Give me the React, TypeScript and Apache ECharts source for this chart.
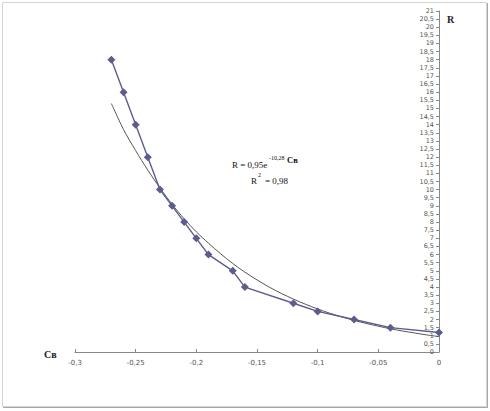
import React, { useEffect, useRef } from "react";
import * as echarts from "echarts";

const cbValues = [-0.27, -0.26, -0.25, -0.24, -0.23, -0.22, -0.21, -0.2, -0.19, -0.17, -0.16, -0.12, -0.1, -0.07, -0.04, 0];
const rValues = [18, 16, 14, 12, 10, 9, 8, 7, 6, 5, 4, 3, 2.5, 2, 1.5, 1.2];

// trend line values (exponential fit R = 0,95e^(-10,28Cв))
const trendX = [-0.27, -0.26, -0.25, -0.24, -0.23, -0.22, -0.21, -0.2, -0.19, -0.18, -0.17, -0.16, -0.15, -0.14, -0.13, -0.12, -0.11, -0.1, -0.09, -0.08, -0.07, -0.06, -0.05, -0.04, -0.03, -0.02, -0.01, 0];
const trendY = [15.3, 13.7, 12.4, 11.2, 10.1, 9.1, 8.2, 7.4, 6.7, 6.05, 5.45, 4.92, 4.44, 4.0, 3.61, 3.26, 2.94, 2.65, 2.39, 2.16, 1.95, 1.76, 1.59, 1.43, 1.29, 1.17, 1.05, 0.95];

const xTicks = { min: -0.3, max: 0, interval: 0.05 };
const yTicks = { min: 0, max: 21, interval: 0.5 };

const fmt = (v: number) => String(+v.toFixed(2)).replace(".", ",");

export default function App() {
  const ref = useRef<HTMLDivElement>(null);
  useEffect(() => {
    document.body.style.margin = "0";
    const chart = echarts.init(ref.current!, null, { renderer: "svg" });
    const serif = "Liberation Serif";
    chart.setOption({
      animation: false,
      backgroundColor: "#ffffff",
      grid: { left: 75, right: 51, top: 11, height: 341, containLabel: false },
      xAxis: {
        type: "value",
        min: xTicks.min,
        max: xTicks.max,
        interval: xTicks.interval,
        axisLine: { show: true, onZero: false, lineStyle: { color: "#888888", width: 1 } },
        axisTick: { show: true, inside: true, length: 3, lineStyle: { color: "#888888" } },
        axisLabel: { formatter: fmt, fontSize: 7, color: "#555555", fontFamily: "DejaVu Sans", margin: 7 },
        splitLine: { show: false },
      },
      yAxis: {
        type: "value",
        position: "right",
        min: yTicks.min,
        max: yTicks.max,
        interval: yTicks.interval,
        axisLine: { show: true, onZero: false, lineStyle: { color: "#888888", width: 1 } },
        axisTick: { show: true, inside: true, length: 3, lineStyle: { color: "#888888" } },
        axisLabel: { inside: true, formatter: fmt, fontSize: 6.5, color: "#555555", fontFamily: "DejaVu Sans", margin: 5, interval: 0 },
        splitLine: { show: false },
      },
      series: [
        {
          type: "line",
          name: "R",
          data: cbValues.map((x, i) => [x, rValues[i]]),
          symbol: "diamond",
          symbolSize: 8,
          itemStyle: { color: "#5c5c8e" },
          lineStyle: { color: "#5c5c8e", width: 1.4 },
          z: 3,
        },
        {
          type: "line",
          name: "trend",
          data: trendX.map((x, i) => [x, trendY[i]]),
          smooth: 0.3,
          showSymbol: false,
          symbol: "none",
          lineStyle: { color: "#555555", width: 1 },
          z: 2,
        },
      ],
      graphic: [
        { type: "rect", shape: { x: 2.5, y: 2.5, width: 484, height: 404 }, style: { fill: "none", stroke: "#d4d4d4", lineWidth: 1 }, silent: true },
        { type: "line", shape: { x1: 487.5, y1: 3, x2: 487.5, y2: 408 }, style: { stroke: "#a8a8a8", lineWidth: 1 } },
        { type: "line", shape: { x1: 3, y1: 407.5, x2: 488, y2: 407.5 }, style: { stroke: "#a8a8a8", lineWidth: 1 } },
        { type: "text", left: 447, top: 14, style: { text: "R", font: `bold 10px '${serif}'`, fill: "#222" } },
        { type: "text", left: 44, top: 349, style: { text: "Св", font: `bold 10px '${serif}'`, fill: "#222" } },
        { type: "text", left: 232, top: 160, style: { text: "R = 0,95e", font: `9px '${serif}'`, fill: "#111" } },
        { type: "text", left: 269, top: 155, style: { text: "-10,28", font: `6px '${serif}'`, fill: "#111" } },
        { type: "text", left: 287, top: 155, style: { text: "Св", font: `bold 8.5px '${serif}'`, fill: "#111" } },
        { type: "text", left: 251, top: 176, style: { text: "R", font: `9px '${serif}'`, fill: "#111" } },
        { type: "text", left: 258, top: 172, style: { text: "2", font: `6px '${serif}'`, fill: "#111" } },
        { type: "text", left: 265, top: 176, style: { text: "= 0,98", font: `9px '${serif}'`, fill: "#111" } },
      ],
    });
    return () => chart.dispose();
  }, []);
  return <div ref={ref} style={{ width: 490, height: 411 }} />;
}
